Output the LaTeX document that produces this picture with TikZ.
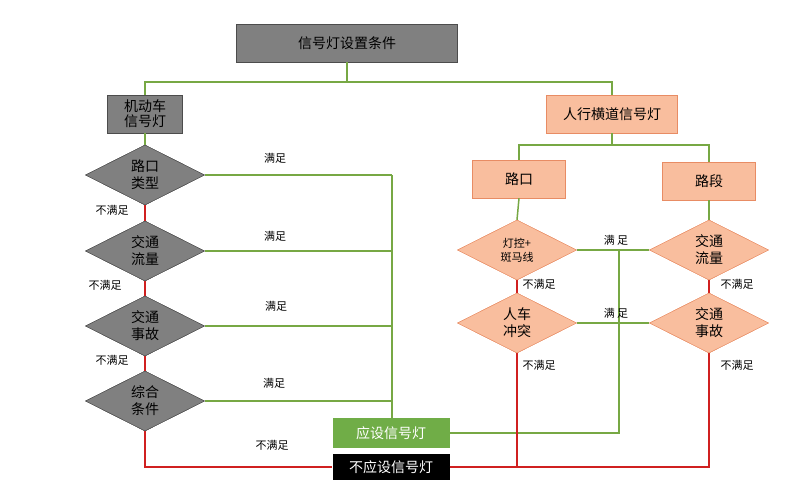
\documentclass[tikz,border=0pt]{standalone}
\usepackage{fontspec}
\setmainfont{Noto Sans CJK SC}
\usetikzlibrary{shapes.geometric}
\definecolor{gl}{RGB}{119,168,68}
\definecolor{rl}{RGB}{208,32,32}
\definecolor{gbox}{RGB}{128,128,128}
\definecolor{obox}{RGB}{249,190,158}
\definecolor{oline}{RGB}{232,140,100}
\definecolor{gfill}{RGB}{112,173,71}
\begin{document}
\begin{tikzpicture}[x=1pt,y=-1pt,
  graybox/.style={draw=black!70,fill=gbox,inner sep=0,font=\fontsize{14}{16}\selectfont,align=center},
  orbox/.style={draw=oline,fill=obox,inner sep=0,font=\fontsize{14}{16}\selectfont},
  gdia/.style={diamond,draw=black!70,fill=gbox,minimum width=119pt,minimum height=60pt,inner sep=0},
  odia/.style={diamond,draw=oline,fill=obox,minimum width=119pt,minimum height=60pt,inner sep=0},
  dtxt/.style={font=\fontsize{14}{17}\selectfont,align=center},
  lab/.style={font=\fontsize{11}{13}\selectfont},
  gline/.style={draw=gl,line width=1.5pt},
  rline/.style={draw=rl,line width=1.5pt}]
\useasboundingbox (0,0) rectangle (805,483);
% boxes
\node[graybox,minimum width=221pt,minimum height=38pt] (title) at (347,43) {信号灯设置条件};
\node[graybox,minimum width=75pt,minimum height=38pt,font=\fontsize{14}{15}\selectfont] (mv) at (145,114) {机动车\\信号灯};
\node[orbox,minimum width=131pt,minimum height=38pt] (ped) at (612,114) {人行横道信号灯};
\node[orbox,minimum width=93pt,minimum height=38pt] (lk) at (519,179) {路口};
\node[orbox,minimum width=93pt,minimum height=38pt] (ld) at (709,181) {路段};
\node[fill=gfill,text=white,minimum width=117pt,minimum height=30pt,inner sep=0,font=\fontsize{14}{16}\selectfont] (yes) at (391,433) {应设信号灯};
\node[fill=black,text=white,minimum width=117pt,minimum height=26pt,inner sep=0,font=\fontsize{14}{16}\selectfont] (no) at (391,467) {不应设信号灯};
% left diamonds
\node[gdia] (a1) at (145,175) {}; \node[dtxt] at (a1) {路口\\类型};
\node[gdia] (a2) at (145,251) {}; \node[dtxt] at (a2) {交通\\流量};
\node[gdia] (a3) at (145,326) {}; \node[dtxt] at (a3) {交通\\事故};
\node[gdia] (a4) at (145,401) {}; \node[dtxt] at (a4) {综合\\条件};
% right diamonds
\node[odia] (b1) at (517,250) {}; \node[dtxt,font=\fontsize{11}{14}\selectfont] at (b1) {灯控+\\斑马线};
\node[odia] (b2) at (517,323) {}; \node[dtxt] at (b2) {人车\\冲突};
\node[odia] (c1) at (709,250) {}; \node[dtxt] at (c1) {交通\\流量};
\node[odia] (c2) at (709,323) {}; \node[dtxt] at (c2) {交通\\事故};
\coordinate (gx) at (392,0);
\coordinate (gv) at (619,0);
% top tree
\begin{scope}[on background layer/.style={}]
\draw[gline] (title.south) -- (347,82) -| (mv.north);
\draw[gline] (347,82) -| (ped.north);
\draw[gline] (mv.south) -- (a1.north);
\draw[gline] (ped.south) -- (612,145) -| (lk.north);
\draw[gline] (612,145) -| (ld.north);
\draw[gline] (lk.south) -- (b1.north);
\draw[gline] (ld.south) -- (c1.north);
% left green
\foreach \d in {a1,a2,a3,a4} \draw[gline] (\d.east) -- (\d.east -| gx);
\draw[gline] (a1.east -| gx) -- (yes.north -| gx);
% left red
\draw[rline] (a1.south) -- (a2.north);
\draw[rline] (a2.south) -- (a3.north);
\draw[rline] (a3.south) -- (a4.north);
\draw[rline] (a4.south) |- (no.west);
% right green
\draw[gline] (b1.east) -- (c1.west);
\draw[gline] (b2.east) -- (c2.west);
\draw[gline] (b1.east -| gv) |- (yes.east);
% right red
\draw[rline] (b1.south) -- (b2.north);
\draw[rline] (c1.south) -- (c2.north);
\draw[rline] (no.east) -| (c2.south);
\draw[rline] (b2.south) -- (b2.south |- no.east);
\end{scope}
% redraw nodes on top of lines
\node[gdia] at (a1) {}; \node[dtxt] at (a1) {路口\\类型};
\node[gdia] at (a2) {}; \node[dtxt] at (a2) {交通\\流量};
\node[gdia] at (a3) {}; \node[dtxt] at (a3) {交通\\事故};
\node[gdia] at (a4) {}; \node[dtxt] at (a4) {综合\\条件};
\node[odia] at (b1) {}; \node[dtxt,font=\fontsize{11}{14}\selectfont] at (b1) {灯控+\\斑马线};
\node[odia] at (b2) {}; \node[dtxt] at (b2) {人车\\冲突};
\node[odia] at (c1) {}; \node[dtxt] at (c1) {交通\\流量};
\node[odia] at (c2) {}; \node[dtxt] at (c2) {交通\\事故};
% labels
\node[lab] at (275,158) {满足};
\node[lab] at (275,236) {满足};
\node[lab] at (276,306) {满足};
\node[lab] at (274,383) {满足};
\node[lab] at (112,210) {不满足};
\node[lab] at (105,285) {不满足};
\node[lab] at (112,360) {不满足};
\node[lab] at (272,445) {不满足};
\node[lab] at (616,240) {满\ 足};
\node[lab] at (616,313) {满\ 足};
\node[lab] at (539,284) {不满足};
\node[lab] at (539,365) {不满足};
\node[lab] at (737,284) {不满足};
\node[lab] at (737,365) {不满足};
\end{tikzpicture}
\end{document}
